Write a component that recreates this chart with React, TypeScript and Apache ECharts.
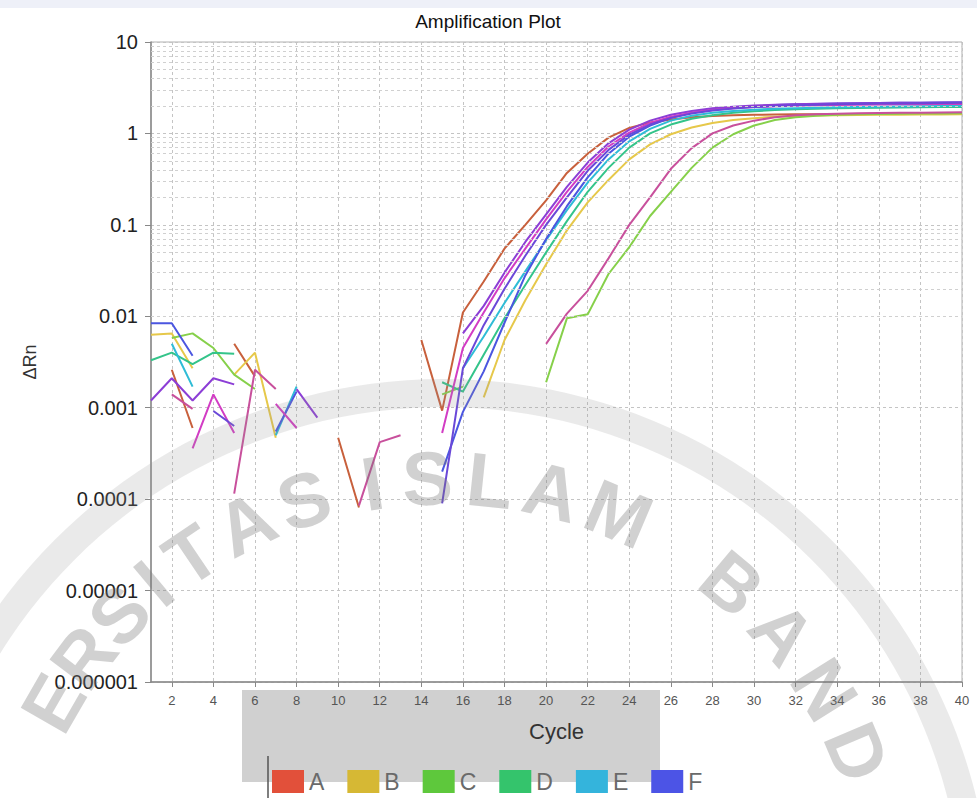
import React, { useEffect, useRef } from "react";
import * as echarts from "echarts";

const N = null;
const cycles = [1,2,3,4,5,6,7,8,9,10,11,12,13,14,15,16,17,18,19,20,21,22,23,24,25,26,27,28,29,30,31,32,33,34,35,36,37,38,39,40];
const xTickValues = [2,4,6,8,10,12,14,16,18,20,22,24,26,28,30,32,34,36,38,40];

const seriesA = [N,0.0026,0.0006,N,0.005,0.0022,N,N,N,0.00047, 0.000081,N,N,0.0055,0.00093,0.011,0.024,0.055,0.1,0.185, 0.37,0.6,0.9,1.15,1.32,1.42,1.5,1.55,1.58,1.6, 1.61,1.62,1.62,1.63,1.63,1.64,1.64,1.65,1.65,1.65];
const seriesB = [0.0063,0.0065,0.0027,N,0.0023,0.004,0.00047,N,N,N, N,N,N,N,N,N,0.0013,0.0055,0.015,0.037, 0.087,0.176,0.31,0.52,0.76,0.98,1.16,1.3,1.4,1.47, 1.52,1.55,1.57,1.58,1.59,1.6,1.6,1.61,1.61,1.62];
const seriesC = [N,0.0058,0.0065,0.0045,0.0023,0.0016,N,N,N,N, N,N,N,N,0.0014,0.0017,N,N,N,0.0019, 0.0095,0.0105,0.029,0.057,0.125,0.23,0.42,0.7,0.98,1.22, 1.4,1.5,1.56,1.6,1.62,1.63,1.64,1.65,1.65,1.66];
const seriesD = [0.0033,0.004,0.003,0.004,0.0039,N,N,N,N,N, N,N,N,N,0.0019,0.0015,0.0038,0.0095,0.022,0.05, 0.11,0.23,0.42,0.7,1.0,1.25,1.45,1.58,1.68,1.75, 1.8,1.84,1.86,1.88,1.9,1.91,1.92,1.93,1.94,1.95];
const seriesE = [N,0.005,0.0017,N,N,N,0.0005,0.0017,N,N, N,N,N,N,N,0.0027,0.006,0.014,0.031,0.068, 0.145,0.29,0.52,0.82,1.12,1.38,1.56,1.68,1.76,1.82, 1.86,1.89,1.91,1.93,1.95,1.96,1.97,1.98,1.99,2.0];
const seriesF = [0.0084,0.0084,0.0037,N,N,N,0.00055,0.0015,N,N, N,N,N,N,0.0002,0.0009,0.0025,0.0085,0.028,0.07, 0.16,0.33,0.6,0.92,1.22,1.48,1.68,1.82,1.92,1.99, 2.04,2.08,2.1,2.12,2.14,2.15,2.16,2.17,2.18,2.19];
const seriesG = [0.0012,0.0021,0.0012,0.0021,0.0018,N,N,0.0016,0.00078,N, N,N,N,N,N,0.0065,0.013,0.03,0.065,0.13, 0.26,0.48,0.78,1.1,1.38,1.6,1.76,1.88,1.96,2.02, 2.06,2.09,2.11,2.13,2.14,2.15,2.16,2.17,2.18,2.18];
const seriesH = [N,N,0.00036,0.0014,0.00053,N,0.0011,0.0006,N,N, N,N,N,N,0.00053,0.0045,0.011,0.026,0.055,0.115, 0.23,0.43,0.72,1.02,1.3,1.52,1.68,1.8,1.88,1.94, 1.98,2.01,2.03,2.05,2.06,2.07,2.08,2.09,2.1,2.1];
const seriesI = [N,N,N,0.00092,0.00063,N,N,N,N,N, N,N,N,N,0.00009,0.0027,0.008,0.02,0.046,0.1, 0.2,0.39,0.66,0.97,1.25,1.48,1.65,1.78,1.87,1.94, 1.99,2.03,2.06,2.08,2.1,2.12,2.13,2.14,2.15,2.16];
const seriesJ = [N,0.0014,0.00097,N,0.000115,0.0026,0.0016,N,N,N, 0.000085,0.00042,0.0005,N,N,N,N,N,N,0.005, 0.0107,0.019,0.043,0.1,0.2,0.41,0.69,1.0,1.22,1.38, 1.5,1.58,1.62,1.64,1.66,1.67,1.68,1.68,1.69,1.7];

const seriesNames = ["A","B","C","D","E","F","G","H","I","J"];
const seriesValues = [seriesA, seriesB, seriesC, seriesD, seriesE, seriesF, seriesG, seriesH, seriesI, seriesJ];
const lineColors = ["#c8603c","#e6c84a","#86d04a","#34c48a","#2fbcd6","#4b56e0","#8c3ed6","#d23cc4","#6a48d8","#c8509c"];
const legendColors = ["#e2503a","#d6b834","#5ec83c","#34c46c","#34b4dc","#4c54e6","#8c3ed6","#d23cc4","#6a48d8","#c8509c"];
const legendNames = ["A","B","C","D","E","F"];

const yTickLabels = ["0.000001","0.00001","0.0001","0.001","0.01","0.1","1","10"];
const decades = [1e-6,1e-5,1e-4,1e-3,1e-2,1e-1,1];
const minorSteps = [2,3,4,5,6,7,8,9];

const wmLetters = ["E","R","S","I","T","A","S","I","S","L","A","M","B","A","N","D"];
const wmAngles = [-60,-53,-46,-40,-34,-26,-18,-9,-2,6,14,23,40,49,58,67];

export default function App() {
  const ref = useRef<HTMLDivElement>(null);
  useEffect(() => {
    if (!ref.current) return;
    const chart = echarts.init(ref.current, undefined, { renderer: "svg" });

    const minorVals: number[] = [];
    decades.forEach((d) => minorSteps.forEach((m) => minorVals.push(d * m)));

    const cx = 443, cy = 928, rText = 450;
    const wmGraphics = wmLetters.map((ch, i) => {
      const th = (wmAngles[i] * Math.PI) / 180;
      return {
        type: "text",
        x: cx + rText * Math.sin(th),
        y: cy - rText * Math.cos(th),
        rotation: -th,
        z: 5,
        silent: true,
        style: {
          text: ch,
          fill: "rgba(120,120,120,0.34)",
          font: 'bold 76px "Liberation Sans", Arial, sans-serif',
          align: "center",
          verticalAlign: "middle",
        },
      };
    });

    const lineSeries = seriesNames.map((name, k) => ({
      name,
      type: "line",
      data: cycles.map((c, i) => [c, seriesValues[k][i] == null ? "-" : seriesValues[k][i]]),
      showSymbol: false,
      symbol: "none",
      connectNulls: false,
      itemStyle: { color: legendColors[k] },
      lineStyle: { color: lineColors[k], width: 2 },
      z: 3,
    }));

    const font = '"Liberation Sans", Arial, sans-serif';

    const option: any = {
      animation: false,
      backgroundColor: "#ffffff",
      title: {
        text: "Amplification Plot",
        left: 483,
        textAlign: "center",
        top: 7,
        textStyle: { fontSize: 19, fontWeight: "normal", color: "#111", fontFamily: font },
      },
      legend: {
        data: legendNames,
        left: 272,
        top: 770,
        padding: 0,
        icon: "rect",
        itemWidth: 32,
        itemHeight: 23,
        itemGap: 23,
        textStyle: { fontSize: 23, color: "#6a6a6a", fontFamily: font },
        selectedMode: false,
      },
      grid: {
        left: 151,
        right: 15,
        top: 42,
        bottom: 116,
        show: true,
        borderColor: "#b0b0b0",
        borderWidth: 1,
      },
      xAxis: {
        type: "value",
        min: 1,
        max: 40,
        name: "Cycle",
        nameLocation: "middle",
        nameGap: 38,
        nameTextStyle: { fontSize: 22, color: "#333", fontFamily: font },
        axisLine: { lineStyle: { color: "#888", width: 1.5 } },
        axisTick: { show: true, length: 5, customValues: xTickValues, lineStyle: { color: "#888" } },
        axisLabel: {
          fontSize: 13,
          color: "#555",
          margin: 12,
          fontFamily: font,
          customValues: xTickValues,
        },
        splitLine: { show: true, lineStyle: { color: "#c4c4c4", type: [3, 3], width: 1 } },
      },
      yAxis: {
        type: "log",
        logBase: 10,
        min: 1e-6,
        max: 10,
        name: "ΔRn",
        nameLocation: "middle",
        nameGap: 112,
        nameTextStyle: { fontSize: 18, color: "#333", fontFamily: font },
        axisLine: { show: true, lineStyle: { color: "#888", width: 1.5 } },
        axisTick: { show: true, length: 6, lineStyle: { color: "#888" } },
        axisLabel: {
          fontSize: 20,
          color: "#222",
          margin: 13,
          fontFamily: font,
          formatter: (v: number) => {
            const e = Math.round(Math.log10(v));
            return yTickLabels[e + 6] ?? "";
          },
        },
        splitLine: { show: true, lineStyle: { color: "#c4c4c4", type: [3, 3], width: 1 } },
      },
      series: [
        ...lineSeries,
        {
          name: "_grid",
          type: "line",
          data: [],
          silent: true,
          z: 1,
          markLine: {
            silent: true,
            symbol: ["none", "none"],
            label: { show: false },
            animation: false,
            lineStyle: { color: "#d0d0d0", type: [3, 3], width: 1 },
            data: minorVals.map((v) => ({ yAxis: v })),
          },
        },
      ],
      graphic: [
        { type: "rect", z: -10, silent: true, shape: { x: 0, y: 0, width: 977, height: 8 }, style: { fill: "#eef0f8" } },
        { type: "rect", z: -5, silent: true, shape: { x: 242, y: 690, width: 418, height: 92 }, style: { fill: "#d0d0d0" } },
        { type: "line", z: 5, silent: true, shape: { x1: 268, y1: 756, x2: 268, y2: 798 }, style: { stroke: "#555", lineWidth: 1.5 } },
        { type: "ring", z: 4, silent: true, shape: { cx: 443, cy: 928, r: 549, r0: 521 }, style: { fill: "rgba(150,150,150,0.2)" } },
        ...wmGraphics,
      ],
    };
    chart.setOption(option);
    return () => chart.dispose();
  }, []);
  return (
    <div
      ref={ref}
      style={{ position: "fixed", left: 0, top: 0, width: 977, height: 798, background: "#fff" }}
    />
  );
}
